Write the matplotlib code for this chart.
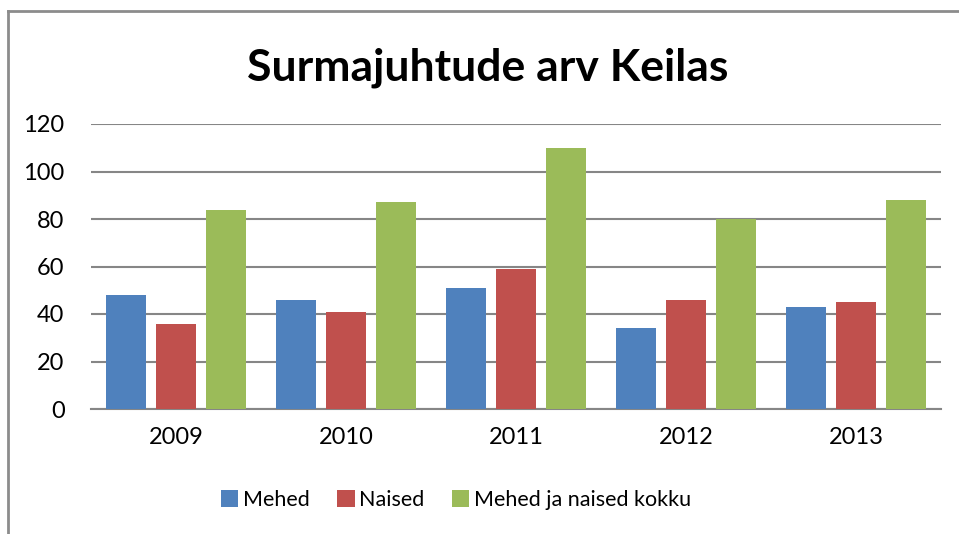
import matplotlib
matplotlib.use("Agg")
import matplotlib.pyplot as plt
from matplotlib.lines import Line2D
from matplotlib.patches import Patch
import numpy as np

years = ["2009", "2010", "2011", "2012", "2013"]
mehed = [48, 46, 51, 34, 43]
naised = [36, 41, 59, 46, 45]
kokku = [84, 87, 110, 80, 88]
series_names = ["Mehed", "Naised", "Mehed ja naised kokku"]
colors = ["#4F81BD", "#C0504D", "#9BBB59"]
yticks = [0, 20, 40, 60, 80, 100, 120]
title = "Surmajuhtude arv Keilas"

plt.rcParams['font.family'] = ['Lato', 'DejaVu Sans']

W, H = 959, 534
fig = plt.figure(figsize=(W / 100, H / 100), dpi=100)

# outer chart border (top & left)
grey = "#8C8C8C"
fig.add_artist(Line2D([8 / W, 1.0], [1 - 11 / H, 1 - 11 / H], color=grey, lw=2, transform=fig.transFigure))
fig.add_artist(Line2D([8 / W, 8 / W], [1 - 11 / H, 0.0], color=grey, lw=2, transform=fig.transFigure))

left, right, top, bottom = 91, 941, 124, 409
ax = fig.add_axes([left / W, 1 - bottom / H, (right - left) / W, (bottom - top) / H])

x = np.arange(len(years))
bw = 40 / 170
step = 50 / 170
for i, (vals, c) in enumerate(zip([mehed, naised, kokku], colors)):
    ax.bar(x + (i - 1) * step, vals, width=bw, color=c, zorder=3, label=series_names[i])

ax.set_xlim(-0.5, len(years) - 0.5)
ax.set_ylim(0, 120)
ax.set_yticks(yticks)
ax.set_yticklabels([str(v) for v in yticks], fontsize=17)
ax.set_xticks(x)
ax.set_xticklabels(years, fontsize=17)
ax.tick_params(axis='both', length=0, colors='black')
ax.tick_params(axis='y', pad=19)
ax.tick_params(axis='x', pad=13)
ax.yaxis.grid(True, color="#868686", lw=1.5, zorder=0)
for s in ["top", "right", "left"]:
    ax.spines[s].set_visible(False)
ax.spines["bottom"].set_color("#868686")
ax.spines["bottom"].set_linewidth(1.5)

fig.text(488 / W, 1 - 68 / H, title, ha='center', va='center', fontsize=32, fontweight='bold')

handles = [Patch(facecolor=c, edgecolor='none') for c in colors]
fig.legend(handles, series_names, loc='center', bbox_to_anchor=(456 / W, 1 - 500 / H),
           ncol=3, frameon=False, fontsize=15.5, handlelength=0.8, handleheight=0.8,
           handletextpad=0.2, columnspacing=1.3)

fig.savefig("out.png", dpi=100)
